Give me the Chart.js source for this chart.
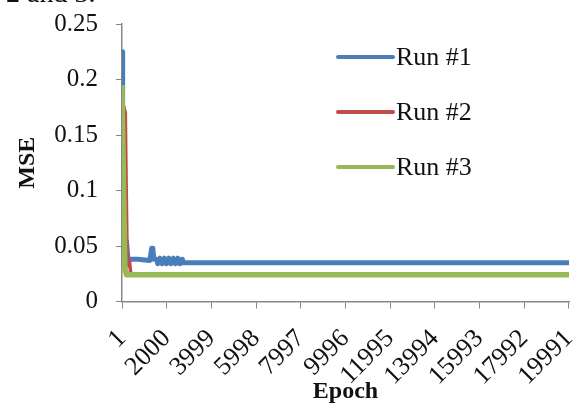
<!DOCTYPE html>
<html>
<head>
<meta charset="utf-8">
<script src="https://cdn.jsdelivr.net/npm/chart.js@4.4.1/dist/chart.umd.min.js"></script>
<style>
  html, body { margin: 0; padding: 0; background: #fff; }
  #wrap { width: 573px; height: 403px; }
</style>
</head>
<body>
<div id="wrap"><canvas id="mse-chart" width="573" height="403"></canvas></div>
<script>
// values
const seriesNames = ['Run #1', 'Run #2', 'Run #3'];
const xTickValues = [1, 2000, 3999, 5998, 7997, 9996, 11995, 13994, 15993, 17992, 19991];
const yTickStep = 0.05;

const run1Epoch = [1, 30, 60, 100, 200, 260, 300, 700, 1250, 1330, 1380, 1420, 1560, 1600, 1700, 1800, 1900, 2000, 2100, 2200, 2300, 2400, 2500, 2600, 2700, 2750, 20000];
const run1Mse   = [0.225, 0.16, 0.09, 0.05, 0.054, 0.04, 0.038, 0.038, 0.037, 0.048, 0.048, 0.038, 0.038, 0.034, 0.039, 0.034, 0.039, 0.034, 0.039, 0.034, 0.039, 0.034, 0.039, 0.034, 0.038, 0.035, 0.035];

const run2Epoch = [1, 150, 190, 230, 270, 300, 340, 380, 450, 20000];
const run2Mse   = [0.181, 0.17, 0.1, 0.042, 0.038, 0.032, 0.036, 0.027, 0.024, 0.024];

const run3Epoch = [1, 130, 200, 20000];
const run3Mse   = [0.195, 0.03, 0.024, 0.024];

const colors = ['#4a7ebb', '#be4b48', '#98b954'];

function toPoints(xs, ys) {
    return xs.map((x, i) => ({ x: x, y: ys[i] }));
}

const serif = '"Liberation Serif", "Times New Roman", serif';
const axisGray = '#868686';

// legend drawn inside the plot, to the right
const legendPlugin = {
    id: 'insideLegend',
    afterDraw(chart) {
        const ctx = chart.ctx;
        ctx.save();
        seriesNames.forEach((name, i) => {
            const y = 57 + i * 55;
            ctx.strokeStyle = colors[i];
            ctx.lineWidth = 4;
            ctx.lineCap = 'round';
            ctx.beginPath();
            ctx.moveTo(338, y);
            ctx.lineTo(393, y);
            ctx.stroke();
            ctx.fillStyle = '#111';
            ctx.font = '26px ' + serif;
            ctx.textBaseline = 'middle';
            ctx.textAlign = 'left';
            ctx.fillText(name, 396, y + 1);
        });
        // caption text cut off at the top of the picture
        ctx.fillStyle = '#111';
        ctx.font = '28px ' + serif;
        ctx.textBaseline = 'alphabetic';
        ctx.fillText('2 and 3.', 6, 2);
        ctx.restore();
    }
};

const ctx = document.getElementById('mse-chart').getContext('2d');
new Chart(ctx, {
    type: 'line',
    data: {
        datasets: [
            { label: seriesNames[0], data: toPoints(run1Epoch, run1Mse), borderColor: colors[0], borderWidth: 5, order: 3 },
            { label: seriesNames[1], data: toPoints(run2Epoch, run2Mse), borderColor: colors[1], borderWidth: 3.5, order: 2 },
            { label: seriesNames[2], data: toPoints(run3Epoch, run3Mse), borderColor: colors[2], borderWidth: 5.5, order: 1 }
        ]
    },
    options: {
        responsive: false,
        animation: false,
        events: [],
        layout: { padding: { top: 24, right: 4, left: 0, bottom: 0 } },
        elements: {
            point: { radius: 0 },
            line: { tension: 0, borderJoinStyle: 'round' }
        },
        plugins: {
            legend: { display: false },
            tooltip: { enabled: false }
        },
        scales: {
            x: {
                type: 'linear',
                min: 1,
                max: 20000,
                afterBuildTicks: function (scale) {
                    scale.ticks = xTickValues.map(v => ({ value: v }));
                },
                afterFit: function (scale) {
                    scale.height = 101.5;
                    scale.paddingLeft = 0;
                    scale.paddingRight = 0;
                },
                grid: { drawOnChartArea: false, drawTicks: true, tickLength: 7, color: axisGray },
                border: { color: axisGray, width: 1.5 },
                ticks: {
                    autoSkip: false,
                    maxRotation: 45,
                    minRotation: 45,
                    padding: 15,
                    color: '#111',
                    font: { family: serif, size: 26 },
                    callback: function (value) { return String(value); }
                },
                title: {
                    display: true,
                    text: 'Epoch',
                    color: '#111',
                    padding: { top: 0, bottom: -3 },
                    font: { family: serif, size: 24, weight: 'bold' }
                }
            },
            y: {
                min: 0,
                max: 0.25,
                afterFit: function (scale) {
                    scale.width = 122;
                    scale.paddingTop = 0;
                    scale.paddingBottom = 0;
                },
                grid: { drawOnChartArea: false, drawTicks: true, tickLength: 6, color: axisGray },
                border: { color: axisGray, width: 1.5 },
                ticks: {
                    stepSize: yTickStep,
                    padding: 18,
                    color: '#111',
                    font: { family: serif, size: 25 },
                    callback: function (value) { return String(parseFloat(value.toFixed(2))); }
                },
                title: {
                    display: true,
                    text: 'MSE',
                    color: '#111',
                    padding: { top: 13, bottom: 0 },
                    font: { family: serif, size: 24, weight: 'bold' }
                }
            }
        }
    },
    plugins: [legendPlugin]
});
</script>
</body>
</html>
